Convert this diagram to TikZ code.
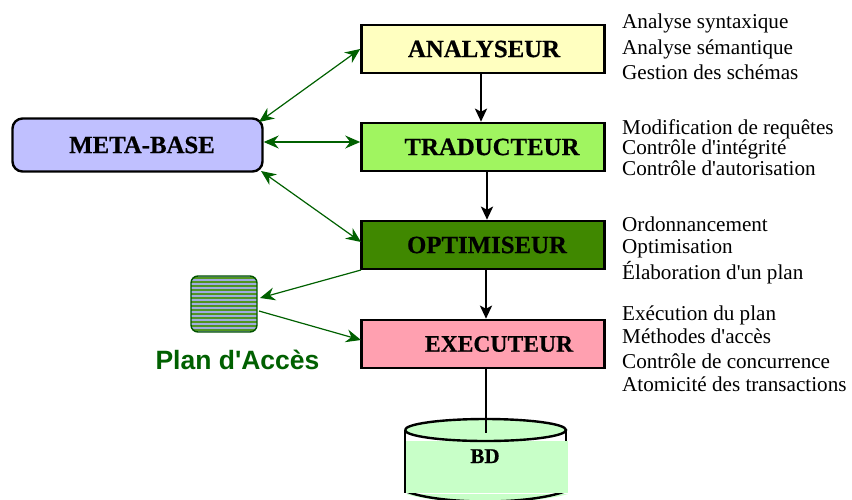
\documentclass[tikz,border=0pt]{standalone}
\usepackage{fontspec}
\setmainfont{Liberation Serif}
\newfontfamily\notefont{Liberation Serif}
\newfontfamily\titlefont{Liberation Serif Bold}[FakeBold=0.6]
\newfontfamily\planfont{Liberation Sans}
\usetikzlibrary{arrows.meta}
\definecolor{arrowgreen}{RGB}{0,96,0}
\definecolor{anaC}{RGB}{255,255,192}
\definecolor{traC}{RGB}{160,245,96}
\definecolor{optC}{RGB}{64,136,0}
\definecolor{exeC}{RGB}{255,160,176}
\definecolor{metaC}{RGB}{192,192,255}
\definecolor{bdC}{RGB}{200,255,200}
\definecolor{stripeA}{RGB}{80,150,30}
\definecolor{stripeB}{RGB}{160,170,225}
\tikzset{
 x=1pt,y=-1pt,
 stage/.style={draw=black,line width=2.6pt,minimum width=243pt,minimum height=48pt,inner sep=0pt,font=\titlefont\fontsize{24.8}{26}\selectfont},
 metabox/.style={draw=black,line width=2.4pt,rounded corners=10pt,minimum width=250pt,minimum height=53pt,inner sep=0pt,fill=metaC,font=\titlefont\fontsize{24.8}{26}\selectfont},
 flow/.style={draw=black,line width=2.4pt,-{Stealth[length=13pt,width=12pt,inset=3pt]}},
 link/.style={draw=arrowgreen,line width=1.2pt,-{Stealth[length=15pt,width=13pt,inset=5pt]}},
 twolink/.style={draw=arrowgreen,line width=1.2pt,{Stealth[length=15pt,width=13pt,inset=5pt]}-{Stealth[length=15pt,width=13pt,inset=5pt]}},
 note/.style={anchor=base west,inner sep=0pt,font=\notefont\fontsize{21.15}{22}\selectfont},
}
\begin{document}
\begin{tikzpicture}
\useasboundingbox (0,0) rectangle (852,499);
% stages
\node[stage,fill=anaC] (ana) at (483,49) {\hspace*{2pt}ANALYSEUR};
\node[stage,fill=traC] (tra) at (483,147) {\hspace*{18pt}TRADUCTEUR};
\node[stage,fill=optC] (opt) at (483,245) {\hspace*{8pt}OPTIMISEUR};
\node[stage,fill=exeC,font=\titlefont\fontsize{23.6}{26}\selectfont] (exe) at (483,344) {\hspace*{32pt}EXECUTEUR};
\node[metabox] (meta) at (137.5,145) {\hspace*{9pt}META-BASE};
% plan
\begin{scope}
\path[clip,rounded corners=7pt] (191,276) rectangle (257,332);
\fill[stripeB] (191,276) rectangle (257,332);
\foreach \k in {0,...,13}{\fill[stripeA] (191,{277+4*\k}) rectangle (257,{279+4*\k});}
\end{scope}
\draw[draw=arrowgreen!85!black,line width=1.4pt,rounded corners=7pt] (191,276) rectangle (257,332);
\node[inner sep=0pt,minimum width=66pt,minimum height=56pt] (plan) at (224,304) {};
\node[inner sep=0pt,anchor=base,text=arrowgreen,font=\planfont\fontsize{26.5}{28}\selectfont\bfseries] (plantxt) at (237.5,369) {Plan d'Accès};
% database
\begin{scope}
\clip (0,0) rectangle (852,499);
\draw[black,line width=2.4pt] (566,430) -- (566,441);
\draw[black,line width=2.4pt] (405,430) -- (405,493);
\fill[bdC] (406,494) .. controls (440,505) and (530,505) .. (568,494) -- cycle;
\draw[black,line width=2.4pt] (405,491) .. controls (440,505) and (530,505) .. (566,491);
\fill[bdC] (406,440.5) rectangle (568,493);
\draw[black,line width=2.4pt,fill=bdC] (405,430) arc[start angle=180,end angle=-180,x radius=80.5,y radius=11];
\end{scope}
\node[inner sep=0pt,anchor=base,font=\titlefont\fontsize{21}{22}\selectfont] (bd) at (485,463) {BD};
\coordinate (bdin) at (486,433);
% connectors
\draw[flow] (ana.south -| 481,0) -- (tra.north -| 481,0);
\draw[flow] (tra.south -| 487,0) -- (opt.north -| 487,0);
\draw[flow] (opt.south -| 486,0) -- (exe.north -| 486,0);
\draw[black,line width=2.4pt] (exe.south -| 486,0) -- (bdin);
\coordinate (mNE) at (259,122);
\coordinate (mSE) at (261,171);
\coordinate (aW) at (ana.west);
\coordinate (oW) at (361,242);
\draw[twolink] (mNE) -- (aW);
\draw[twolink] (meta.east |- 0,142) -- (tra.west |- 0,142);
\draw[twolink] (mSE) -- (oW);
\coordinate (oSW) at (361,270);
\coordinate (pE) at (260,298);
\coordinate (pE2) at (259,311);
\coordinate (eW) at (361,340);
\draw[link] (oSW) -- (pE);
\draw[link] (pE2) -- (eW);
% notes
\node[note] (n1) at (622,28) {Analyse syntaxique};
\node[note] (n2) at (622,54) {Analyse sémantique};
\node[note] (n3) at (622,79) {Gestion des schémas};
\node[note] (n4) at (622,134) {Modification de requêtes};
\node[note] (n5) at (622,154) {Contrôle d'intégrité};
\node[note] (n6) at (622,175) {Contrôle d'autorisation};
\node[note] (n7) at (622,231) {Ordonnancement};
\node[note] (n8) at (622,253) {Optimisation};
\node[note] (n9) at (622,279) {Élaboration d'un plan};
\node[note] (n10) at (622,320) {Exécution du plan};
\node[note] (n11) at (622,343) {Méthodes d'accès};
\node[note] (n12) at (622,368) {Contrôle de concurrence};
\node[note] (n13) at (622,391) {Atomicité des transactions};
\end{tikzpicture}
\end{document}
